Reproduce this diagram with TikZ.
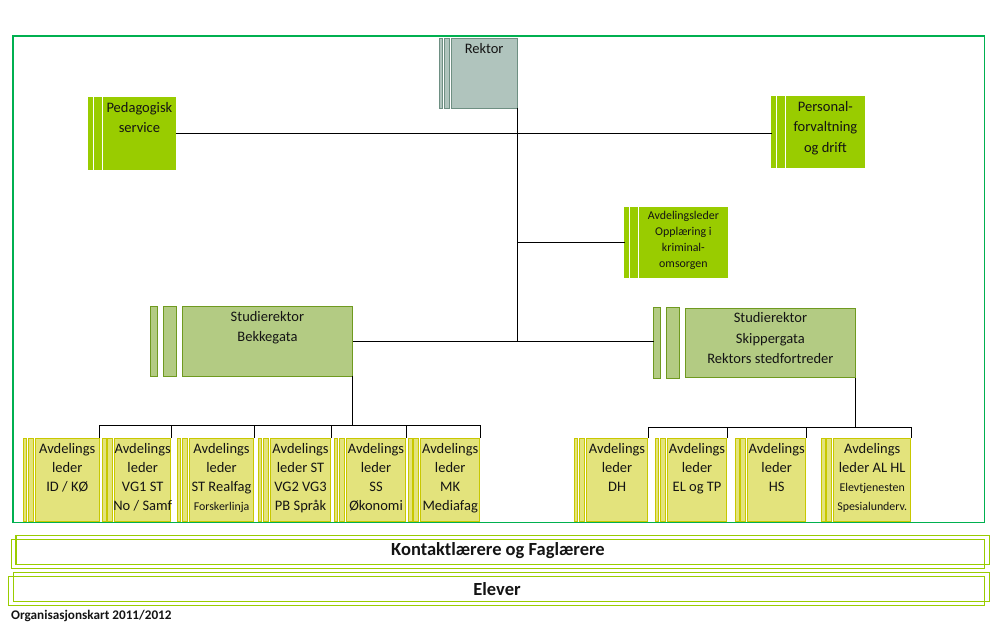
\documentclass[tikz,border=0pt]{standalone}
\usepackage{fontspec}
\setmainfont{Carlito}
\definecolor{rammegronn}{HTML}{00B050}
\definecolor{rektorfyll}{HTML}{B0C4BD}
\definecolor{rektorlinje}{HTML}{6E8F82}
\definecolor{lysgronn}{HTML}{99CC00}
\definecolor{studfyll}{HTML}{B3CB83}
\definecolor{studlinje}{HTML}{6F9A1F}
\definecolor{avdfyll}{HTML}{E3E37C}
\definecolor{avdlinje}{HTML}{C8C800}
\definecolor{tekstfarge}{HTML}{141414}
\newcommand{\liten}{\fontsize{11.9}{19}\selectfont}
\begin{document}
\begin{tikzpicture}[x=1pt,y=-1pt,
  boks/.style={anchor=north west,inner sep=0pt,line width=0.8pt},
  rektorboks/.style={boks,draw=rektorlinje,fill=rektorfyll},
  gronnboks/.style={boks,draw=lysgronn,fill=lysgronn},
  studboks/.style={boks,draw=studlinje,fill=studfyll,minimum width=170,minimum height=69.5},
  avdboks/.style={boks,draw=avdlinje,fill=avdfyll,minimum height=82.7},
  tekst/.style={anchor=north,align=center,inner xsep=2pt,inner ysep=5pt,text=tekstfarge,font=\fontsize{14.5}{20.5}\selectfont},
  avdtekst/.style={tekst,font=\fontsize{14.5}{19}\selectfont},
  smatekst/.style={tekst,inner ysep=4pt,font=\fontsize{11.9}{16}\selectfont},
  linje/.style={black,line width=0.9pt},
  bandtekst/.style={font=\bfseries\fontsize{18.5}{20}\selectfont,text=tekstfarge,inner sep=0pt}]

\useasboundingbox (0,0) rectangle (1000,640);

\draw[rammegronn,line width=1.1pt] (13,36) rectangle (984.3,522.5);

\node[rektorboks,minimum width=65.5,minimum height=69.5,label={[tekst]north:Rektor}] (rektor) at (451,38) {};
\node[gronnboks,minimum width=72,minimum height=71.5,label={[tekst]north:Pedagogisk\\service}] (ped) at (103,97) {};
\node[gronnboks,minimum width=78,minimum height=71,label={[tekst]north:Personal-\\forvaltning\\og drift}] (pers) at (786,96) {};
\node[gronnboks,minimum width=88,minimum height=70,label={[smatekst]north:Avdelingsleder\\Opplæring i\\kriminal-\\omsorgen}] (opp) at (639,207) {};
\node[studboks,label={[tekst]north:Studierektor\\Bekkegata}] (bekk) at (182,306) {};
\node[studboks,label={[tekst]north:Studierektor\\Skippergata\\Rektors stedfortreder}] (skip) at (685,307.7) {};

\node[avdboks,minimum width=63.7,label={[avdtekst]north:Avdelings\\leder\\ID / KØ}] (b1) at (35,438.3) {};
\node[avdboks,minimum width=56,label={[avdtekst]north:Avdelings\\leder\\VG1 ST\\No / Samf}] (b2) at (114.3,438.3) {};
\node[avdboks,minimum width=64.3,label={[avdtekst]north:Avdelings\\leder\\ST Realfag\\{\liten Forskerlinja}}] (b3) at (189,438.3) {};
\node[avdboks,minimum width=60.3,label={[avdtekst]north:Avdelings\\leder ST\\VG2 VG3\\PB Språk}] (b4) at (270,438.3) {};
\node[avdboks,minimum width=59.3,label={[avdtekst]north:Avdelings\\leder\\SS\\Økonomi}] (b5) at (346,438.3) {};
\node[avdboks,minimum width=59,label={[avdtekst]north:Avdelings\\leder\\MK\\Mediafag}] (b6) at (420.3,438.3) {};

\node[avdboks,minimum width=61.3,label={[avdtekst]north:Avdelings\\leder\\DH}] (r1) at (586,438.3) {};
\node[avdboks,minimum width=59.3,label={[avdtekst]north:Avdelings\\leder\\EL og TP}] (r2) at (667,438.3) {};
\node[avdboks,minimum width=58,label={[avdtekst]north:Avdelings\\leder\\HS}] (r3) at (747.3,438.3) {};
\node[avdboks,minimum width=77,label={[avdtekst]north:Avdelings\\leder AL HL\\{\liten Elevtjenesten}\\{\liten Spesialunderv.}}] (r4) at (833.3,438.3) {};

\draw[rektorboks] ([xshift=-12pt]rektor.north west) rectangle ([xshift=-8.5pt]rektor.south west);
\draw[rektorboks] ([xshift=-7pt]rektor.north west) rectangle ([xshift=-2pt]rektor.south west);

\foreach \n in {ped,pers,opp}{
\draw[gronnboks] ([xshift=-14.5pt]\n.north west) rectangle ([xshift=-10.7pt]\n.south west);
\draw[gronnboks] ([xshift=-8.7pt]\n.north west) rectangle ([xshift=-2pt]\n.south west);
}

\foreach \n in {bekk,skip}{
\draw[studboks] ([xshift=-31.5pt]\n.north west) rectangle ([xshift=-24.3pt]\n.south west);
\draw[studboks] ([xshift=-18.5pt]\n.north west) rectangle ([xshift=-5.8pt]\n.south west);
}

\foreach \n in {b1,b2,b3,b4,b5,b6,r1,r2,r3,r4}{
\draw[avdboks] ([xshift=-11.5pt]\n.north west) rectangle ([xshift=-8.3pt]\n.south west);
\draw[avdboks] ([xshift=-6.6pt]\n.north west) rectangle ([xshift=-1.7pt]\n.south west);
}

\draw[linje] (ped.east) -- ([xshift=-14.5pt]pers.west |- ped.east);
\draw[linje] (rektor.south east) -- (rektor.south east |- bekk.east);
\draw[linje] (rektor.south east |- opp.west) -- ([xshift=-14.5pt]opp.west);
\draw[linje] (bekk.east) -- ([xshift=-31.5pt]skip.west |- bekk.east);

\coordinate (busv) at (0,425);
\coordinate (bush) at (0,427);
\draw[linje] (bekk.south east) -- (bekk.south east |- busv);
\draw[linje] (b1.north east |- busv) -- (b6.north east |- busv);
\foreach \n in {b1,b2,b3,b4,b5,b6}
\draw[linje] (\n.north east |- busv) -- (\n.north east);
\draw[linje] (skip.south east) -- (skip.south east |- bush);
\draw[linje] (r1.north east |- bush) -- (r4.north east |- bush);
\foreach \n in {r1,r2,r3,r4}
\draw[linje] (\n.north east |- bush) -- (\n.north east);

\begin{scope}[lysgronn,line width=1.2pt]
\draw (16,535.7) rectangle (989.3,564.3);
\draw (11.3,539.3) rectangle (984.3,568.3);
\draw (13.3,572.5) rectangle (989.3,601.5);
\draw (8.3,576.3) rectangle (984.3,605.5);
\end{scope}

\node[bandtekst] (kontakt) at (498,551) {Kontaktlærere og Faglærere};
\node[bandtekst] (elever) at (497,589) {Elever};
\node[anchor=west,inner sep=0pt,text=tekstfarge,font=\bfseries\fontsize{13.2}{15}\selectfont] (kart) at (11,616) {Organisasjonskart 2011/2012};
\end{tikzpicture}
\end{document}
